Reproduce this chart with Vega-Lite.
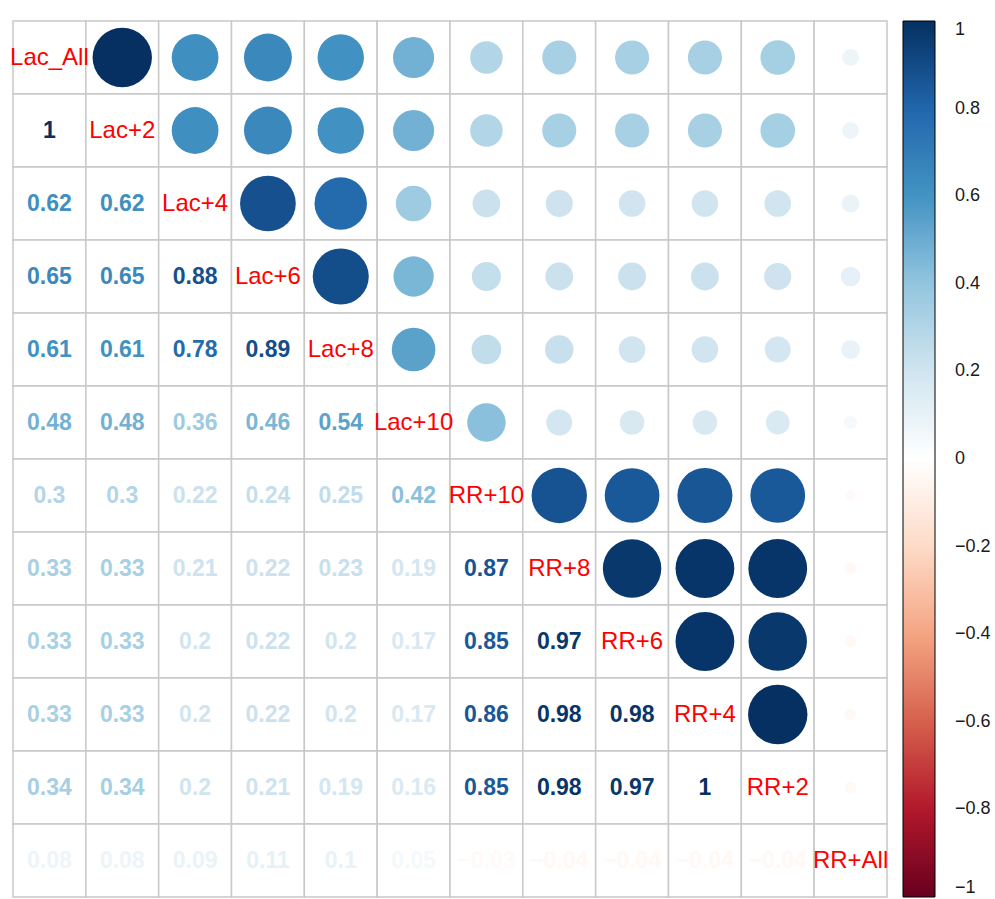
{
  "$schema": "https://vega.github.io/schema/vega-lite/v6.json",
  "width": 874,
  "height": 876,
  "autosize": {"type": "none"},
  "padding": {"left": 13, "top": 21, "right": 108, "bottom": 2},
  "background": "white",
  "config": {"view": {"stroke": null}, "font": "Liberation Sans"},
  "data": {"values": [
    {"row":"Lac_All","i":0,"col":"Lac_All","j":0,"r":1},
    {"row":"Lac_All","i":0,"col":"Lac+2","j":1,"r":1},
    {"row":"Lac_All","i":0,"col":"Lac+4","j":2,"r":0.62},
    {"row":"Lac_All","i":0,"col":"Lac+6","j":3,"r":0.65},
    {"row":"Lac_All","i":0,"col":"Lac+8","j":4,"r":0.61},
    {"row":"Lac_All","i":0,"col":"Lac+10","j":5,"r":0.48},
    {"row":"Lac_All","i":0,"col":"RR+10","j":6,"r":0.3},
    {"row":"Lac_All","i":0,"col":"RR+8","j":7,"r":0.33},
    {"row":"Lac_All","i":0,"col":"RR+6","j":8,"r":0.33},
    {"row":"Lac_All","i":0,"col":"RR+4","j":9,"r":0.33},
    {"row":"Lac_All","i":0,"col":"RR+2","j":10,"r":0.34},
    {"row":"Lac_All","i":0,"col":"RR+All","j":11,"r":0.08},

    {"row":"Lac+2","i":1,"col":"Lac_All","j":0,"r":1},
    {"row":"Lac+2","i":1,"col":"Lac+2","j":1,"r":1},
    {"row":"Lac+2","i":1,"col":"Lac+4","j":2,"r":0.62},
    {"row":"Lac+2","i":1,"col":"Lac+6","j":3,"r":0.65},
    {"row":"Lac+2","i":1,"col":"Lac+8","j":4,"r":0.61},
    {"row":"Lac+2","i":1,"col":"Lac+10","j":5,"r":0.48},
    {"row":"Lac+2","i":1,"col":"RR+10","j":6,"r":0.3},
    {"row":"Lac+2","i":1,"col":"RR+8","j":7,"r":0.33},
    {"row":"Lac+2","i":1,"col":"RR+6","j":8,"r":0.33},
    {"row":"Lac+2","i":1,"col":"RR+4","j":9,"r":0.33},
    {"row":"Lac+2","i":1,"col":"RR+2","j":10,"r":0.34},
    {"row":"Lac+2","i":1,"col":"RR+All","j":11,"r":0.08},

    {"row":"Lac+4","i":2,"col":"Lac_All","j":0,"r":0.62},
    {"row":"Lac+4","i":2,"col":"Lac+2","j":1,"r":0.62},
    {"row":"Lac+4","i":2,"col":"Lac+4","j":2,"r":1},
    {"row":"Lac+4","i":2,"col":"Lac+6","j":3,"r":0.88},
    {"row":"Lac+4","i":2,"col":"Lac+8","j":4,"r":0.78},
    {"row":"Lac+4","i":2,"col":"Lac+10","j":5,"r":0.36},
    {"row":"Lac+4","i":2,"col":"RR+10","j":6,"r":0.22},
    {"row":"Lac+4","i":2,"col":"RR+8","j":7,"r":0.21},
    {"row":"Lac+4","i":2,"col":"RR+6","j":8,"r":0.2},
    {"row":"Lac+4","i":2,"col":"RR+4","j":9,"r":0.2},
    {"row":"Lac+4","i":2,"col":"RR+2","j":10,"r":0.2},
    {"row":"Lac+4","i":2,"col":"RR+All","j":11,"r":0.09},

    {"row":"Lac+6","i":3,"col":"Lac_All","j":0,"r":0.65},
    {"row":"Lac+6","i":3,"col":"Lac+2","j":1,"r":0.65},
    {"row":"Lac+6","i":3,"col":"Lac+4","j":2,"r":0.88},
    {"row":"Lac+6","i":3,"col":"Lac+6","j":3,"r":1},
    {"row":"Lac+6","i":3,"col":"Lac+8","j":4,"r":0.89},
    {"row":"Lac+6","i":3,"col":"Lac+10","j":5,"r":0.46},
    {"row":"Lac+6","i":3,"col":"RR+10","j":6,"r":0.24},
    {"row":"Lac+6","i":3,"col":"RR+8","j":7,"r":0.22},
    {"row":"Lac+6","i":3,"col":"RR+6","j":8,"r":0.22},
    {"row":"Lac+6","i":3,"col":"RR+4","j":9,"r":0.22},
    {"row":"Lac+6","i":3,"col":"RR+2","j":10,"r":0.21},
    {"row":"Lac+6","i":3,"col":"RR+All","j":11,"r":0.11},

    {"row":"Lac+8","i":4,"col":"Lac_All","j":0,"r":0.61},
    {"row":"Lac+8","i":4,"col":"Lac+2","j":1,"r":0.61},
    {"row":"Lac+8","i":4,"col":"Lac+4","j":2,"r":0.78},
    {"row":"Lac+8","i":4,"col":"Lac+6","j":3,"r":0.89},
    {"row":"Lac+8","i":4,"col":"Lac+8","j":4,"r":1},
    {"row":"Lac+8","i":4,"col":"Lac+10","j":5,"r":0.54},
    {"row":"Lac+8","i":4,"col":"RR+10","j":6,"r":0.25},
    {"row":"Lac+8","i":4,"col":"RR+8","j":7,"r":0.23},
    {"row":"Lac+8","i":4,"col":"RR+6","j":8,"r":0.2},
    {"row":"Lac+8","i":4,"col":"RR+4","j":9,"r":0.2},
    {"row":"Lac+8","i":4,"col":"RR+2","j":10,"r":0.19},
    {"row":"Lac+8","i":4,"col":"RR+All","j":11,"r":0.1},

    {"row":"Lac+10","i":5,"col":"Lac_All","j":0,"r":0.48},
    {"row":"Lac+10","i":5,"col":"Lac+2","j":1,"r":0.48},
    {"row":"Lac+10","i":5,"col":"Lac+4","j":2,"r":0.36},
    {"row":"Lac+10","i":5,"col":"Lac+6","j":3,"r":0.46},
    {"row":"Lac+10","i":5,"col":"Lac+8","j":4,"r":0.54},
    {"row":"Lac+10","i":5,"col":"Lac+10","j":5,"r":1},
    {"row":"Lac+10","i":5,"col":"RR+10","j":6,"r":0.42},
    {"row":"Lac+10","i":5,"col":"RR+8","j":7,"r":0.19},
    {"row":"Lac+10","i":5,"col":"RR+6","j":8,"r":0.17},
    {"row":"Lac+10","i":5,"col":"RR+4","j":9,"r":0.17},
    {"row":"Lac+10","i":5,"col":"RR+2","j":10,"r":0.16},
    {"row":"Lac+10","i":5,"col":"RR+All","j":11,"r":0.05},

    {"row":"RR+10","i":6,"col":"Lac_All","j":0,"r":0.3},
    {"row":"RR+10","i":6,"col":"Lac+2","j":1,"r":0.3},
    {"row":"RR+10","i":6,"col":"Lac+4","j":2,"r":0.22},
    {"row":"RR+10","i":6,"col":"Lac+6","j":3,"r":0.24},
    {"row":"RR+10","i":6,"col":"Lac+8","j":4,"r":0.25},
    {"row":"RR+10","i":6,"col":"Lac+10","j":5,"r":0.42},
    {"row":"RR+10","i":6,"col":"RR+10","j":6,"r":1},
    {"row":"RR+10","i":6,"col":"RR+8","j":7,"r":0.87},
    {"row":"RR+10","i":6,"col":"RR+6","j":8,"r":0.85},
    {"row":"RR+10","i":6,"col":"RR+4","j":9,"r":0.86},
    {"row":"RR+10","i":6,"col":"RR+2","j":10,"r":0.85},
    {"row":"RR+10","i":6,"col":"RR+All","j":11,"r":-0.03},

    {"row":"RR+8","i":7,"col":"Lac_All","j":0,"r":0.33},
    {"row":"RR+8","i":7,"col":"Lac+2","j":1,"r":0.33},
    {"row":"RR+8","i":7,"col":"Lac+4","j":2,"r":0.21},
    {"row":"RR+8","i":7,"col":"Lac+6","j":3,"r":0.22},
    {"row":"RR+8","i":7,"col":"Lac+8","j":4,"r":0.23},
    {"row":"RR+8","i":7,"col":"Lac+10","j":5,"r":0.19},
    {"row":"RR+8","i":7,"col":"RR+10","j":6,"r":0.87},
    {"row":"RR+8","i":7,"col":"RR+8","j":7,"r":1},
    {"row":"RR+8","i":7,"col":"RR+6","j":8,"r":0.97},
    {"row":"RR+8","i":7,"col":"RR+4","j":9,"r":0.98},
    {"row":"RR+8","i":7,"col":"RR+2","j":10,"r":0.98},
    {"row":"RR+8","i":7,"col":"RR+All","j":11,"r":-0.04},

    {"row":"RR+6","i":8,"col":"Lac_All","j":0,"r":0.33},
    {"row":"RR+6","i":8,"col":"Lac+2","j":1,"r":0.33},
    {"row":"RR+6","i":8,"col":"Lac+4","j":2,"r":0.2},
    {"row":"RR+6","i":8,"col":"Lac+6","j":3,"r":0.22},
    {"row":"RR+6","i":8,"col":"Lac+8","j":4,"r":0.2},
    {"row":"RR+6","i":8,"col":"Lac+10","j":5,"r":0.17},
    {"row":"RR+6","i":8,"col":"RR+10","j":6,"r":0.85},
    {"row":"RR+6","i":8,"col":"RR+8","j":7,"r":0.97},
    {"row":"RR+6","i":8,"col":"RR+6","j":8,"r":1},
    {"row":"RR+6","i":8,"col":"RR+4","j":9,"r":0.98},
    {"row":"RR+6","i":8,"col":"RR+2","j":10,"r":0.97},
    {"row":"RR+6","i":8,"col":"RR+All","j":11,"r":-0.04},

    {"row":"RR+4","i":9,"col":"Lac_All","j":0,"r":0.33},
    {"row":"RR+4","i":9,"col":"Lac+2","j":1,"r":0.33},
    {"row":"RR+4","i":9,"col":"Lac+4","j":2,"r":0.2},
    {"row":"RR+4","i":9,"col":"Lac+6","j":3,"r":0.22},
    {"row":"RR+4","i":9,"col":"Lac+8","j":4,"r":0.2},
    {"row":"RR+4","i":9,"col":"Lac+10","j":5,"r":0.17},
    {"row":"RR+4","i":9,"col":"RR+10","j":6,"r":0.86},
    {"row":"RR+4","i":9,"col":"RR+8","j":7,"r":0.98},
    {"row":"RR+4","i":9,"col":"RR+6","j":8,"r":0.98},
    {"row":"RR+4","i":9,"col":"RR+4","j":9,"r":1},
    {"row":"RR+4","i":9,"col":"RR+2","j":10,"r":1},
    {"row":"RR+4","i":9,"col":"RR+All","j":11,"r":-0.04},

    {"row":"RR+2","i":10,"col":"Lac_All","j":0,"r":0.34},
    {"row":"RR+2","i":10,"col":"Lac+2","j":1,"r":0.34},
    {"row":"RR+2","i":10,"col":"Lac+4","j":2,"r":0.2},
    {"row":"RR+2","i":10,"col":"Lac+6","j":3,"r":0.21},
    {"row":"RR+2","i":10,"col":"Lac+8","j":4,"r":0.19},
    {"row":"RR+2","i":10,"col":"Lac+10","j":5,"r":0.16},
    {"row":"RR+2","i":10,"col":"RR+10","j":6,"r":0.85},
    {"row":"RR+2","i":10,"col":"RR+8","j":7,"r":0.98},
    {"row":"RR+2","i":10,"col":"RR+6","j":8,"r":0.97},
    {"row":"RR+2","i":10,"col":"RR+4","j":9,"r":1},
    {"row":"RR+2","i":10,"col":"RR+2","j":10,"r":1},
    {"row":"RR+2","i":10,"col":"RR+All","j":11,"r":-0.04},

    {"row":"RR+All","i":11,"col":"Lac_All","j":0,"r":0.08},
    {"row":"RR+All","i":11,"col":"Lac+2","j":1,"r":0.08},
    {"row":"RR+All","i":11,"col":"Lac+4","j":2,"r":0.09},
    {"row":"RR+All","i":11,"col":"Lac+6","j":3,"r":0.11},
    {"row":"RR+All","i":11,"col":"Lac+8","j":4,"r":0.1},
    {"row":"RR+All","i":11,"col":"Lac+10","j":5,"r":0.05},
    {"row":"RR+All","i":11,"col":"RR+10","j":6,"r":-0.03},
    {"row":"RR+All","i":11,"col":"RR+8","j":7,"r":-0.04},
    {"row":"RR+All","i":11,"col":"RR+6","j":8,"r":-0.04},
    {"row":"RR+All","i":11,"col":"RR+4","j":9,"r":-0.04},
    {"row":"RR+All","i":11,"col":"RR+2","j":10,"r":-0.04},
    {"row":"RR+All","i":11,"col":"RR+All","j":11,"r":1}
  ]},
  "encoding": {
    "x": {"field": "col", "type": "nominal", "axis": null,
          "scale": {"domain": ["Lac_All","Lac+2","Lac+4","Lac+6","Lac+8","Lac+10","RR+10","RR+8","RR+6","RR+4","RR+2","RR+All"], "paddingInner": 0, "paddingOuter": 0}},
    "y": {"field": "row", "type": "nominal", "axis": null,
          "scale": {"domain": ["Lac_All","Lac+2","Lac+4","Lac+6","Lac+8","Lac+10","RR+10","RR+8","RR+6","RR+4","RR+2","RR+All"], "paddingInner": 0, "paddingOuter": 0}}
  },
  "layer": [
    {
      "mark": {"type": "rect", "fill": "white", "stroke": "#C8C8C8", "strokeWidth": 1.5}
    },
    {
      "transform": [{"filter": "datum.j > datum.i"}],
      "mark": {"type": "point", "shape": "circle", "filled": true, "opacity": 1, "strokeWidth": 0},
      "encoding": {
        "size": {"field": "r", "type": "quantitative", "legend": null,
                 "scale": {"type": "linear", "domain": [-1, 0, 1], "range": [3526, 0, 3526]}},
        "color": {"field": "r", "type": "quantitative"}
      }
    },
    {
      "transform": [{"filter": "datum.j < datum.i"}],
      "mark": {"type": "text", "fontSize": 23, "fontWeight": "bold", "font": "Liberation Sans"},
      "encoding": {
        "text": {"field": "r", "type": "quantitative", "format": ".2~f"},
        "color": {"field": "r", "type": "quantitative",
                  "scale": {"type": "linear", "interpolate": "rgb",
                            "domain": [-1, -0.8, -0.6, -0.4, -0.2, 0, 0.2, 0.4, 0.6, 0.8, 1],
                            "range": ["#67001F", "#B2182B", "#D6604D", "#F4A582", "#FDDBC7", "#FFFFFF", "#D1E5F0", "#92C5DE", "#4393C3", "#2166AC", "#053061"]},
                  "legend": {"title": null, "orient": "right", "offset": 16, "direction": "vertical",
                             "gradientLength": 876, "gradientThickness": 32,
                             "gradientStrokeColor": "#000000", "gradientStrokeWidth": 1,
                             "values": [-1, -0.8, -0.6, -0.4, -0.2, 0, 0.2, 0.4, 0.6, 0.8, 1],
                             "format": "~g",
                             "labelFontSize": 18, "labelColor": "#1a1a1a", "labelOffset": 20,
                             "labelOverlap": false, "labelFont": "Liberation Sans"}}
      }
    },
    {
      "transform": [{"filter": "datum.j == datum.i"}],
      "mark": {"type": "text", "fontSize": 24, "color": "#FF0000", "font": "Liberation Sans"},
      "encoding": {
        "text": {"field": "row", "type": "nominal"}
      }
    }
  ]
}
